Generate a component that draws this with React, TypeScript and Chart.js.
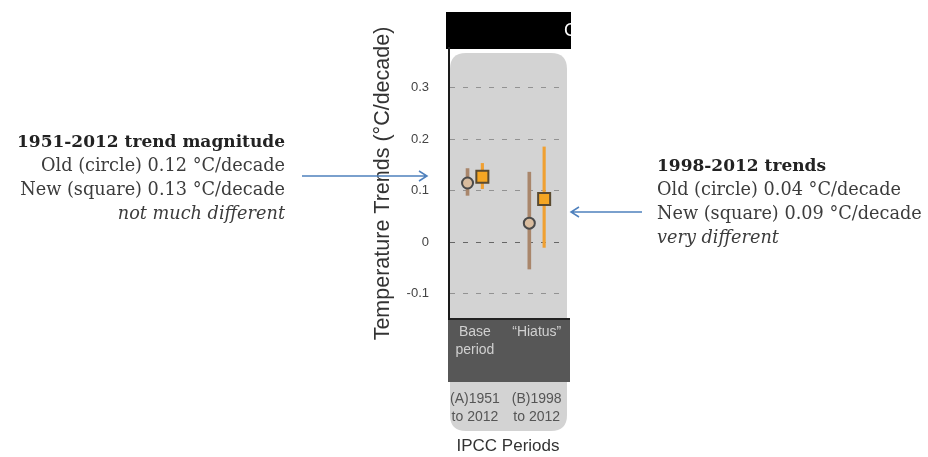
import React, { useEffect, useRef } from 'react';
import { Chart, registerables } from 'chart.js';

Chart.register(...registerables);

// ---- data ----
const categoryPositions = [0, 1];
const bandLabels = [['Base', 'period'], ['“Hiatus”']];
const periodLabels = [['(A)1951', 'to 2012'], ['(B)1998', 'to 2012']];
const oldTrend = [0.115, 0.037];
const oldLow = [0.091, -0.052];
const oldHigh = [0.143, 0.136];
const newTrend = [0.127, 0.084];
const newLow = [0.104, -0.01];
const newHigh = [0.153, 0.185];
const yTickValues = [-0.1, 0, 0.1, 0.2, 0.3];
const yTickLabels = ['-0.1', '0', '0.1', '0.2', '0.3'];
const groupOffset = 0.12;

const leftNote = {
  title: '1951-2012 trend magnitude',
  lines: ['Old (circle) 0.12 °C/decade', 'New (square) 0.13 °C/decade'],
  remark: 'not much different',
};
const rightNote = {
  title: '1998-2012 trends',
  lines: ['Old (circle) 0.04 °C/decade', 'New (square) 0.09 °C/decade'],
  remark: 'very different',
};

const SANS = '"Liberation Sans", Arial, sans-serif';
const SERIF = '"DejaVu Serif", serif';

const decorPlugin = {
  id: 'decor',
  beforeDraw(chart: any) {
    const ctx = chart.ctx;
    const a = chart.chartArea;
    ctx.save();
    // rounded light panel
    const px = a.left + 1, py = a.top + 5, pw = a.right - a.left - 1, ph = 431 - py, r = 16;
    ctx.fillStyle = '#d3d3d3';
    ctx.beginPath();
    ctx.moveTo(px + r, py);
    ctx.lineTo(px + pw - r, py);
    ctx.quadraticCurveTo(px + pw, py, px + pw, py + r);
    ctx.lineTo(px + pw, py + ph - r);
    ctx.quadraticCurveTo(px + pw, py + ph, px + pw - r, py + ph);
    ctx.lineTo(px + r, py + ph);
    ctx.quadraticCurveTo(px, py + ph, px, py + ph - r);
    ctx.lineTo(px, py + r);
    ctx.quadraticCurveTo(px, py, px + r, py);
    ctx.closePath();
    ctx.fill();
    // black header
    ctx.fillStyle = '#000';
    ctx.fillRect(a.left - 3, 12, a.right - a.left + 7, a.top - 11);
    ctx.save();
    ctx.beginPath();
    ctx.rect(a.left - 3, 12, a.right - a.left + 7, a.top - 11);
    ctx.clip();
    ctx.fillStyle = '#fff';
    ctx.font = '18px ' + SANS;
    ctx.textBaseline = 'middle';
    ctx.fillText('C', 564, 31);
    ctx.restore();
    // dark band
    ctx.fillStyle = '#575757';
    ctx.fillRect(a.left - 1, a.bottom, a.right - a.left + 4, 63);
    ctx.fillStyle = '#222';
    ctx.fillRect(a.left - 1, a.bottom - 1, a.right - a.left + 4, 2);
    ctx.restore();
  },
  afterDraw(chart: any) {
    const ctx = chart.ctx;
    const arrow = (x1: number, x2: number, y: number) => {
      const dir = x2 > x1 ? 1 : -1;
      ctx.beginPath();
      ctx.moveTo(x1, y);
      ctx.lineTo(x2, y);
      ctx.moveTo(x2 - dir * 8, y - 5);
      ctx.lineTo(x2, y);
      ctx.lineTo(x2 - dir * 8, y + 5);
      ctx.stroke();
    };
    ctx.save();
    ctx.strokeStyle = '#4f81bd';
    ctx.lineWidth = 1.5;
    arrow(302, 427, 176);
    arrow(642, 571, 212);
    ctx.restore();
  },
};

export default function App() {
  const ref = useRef<HTMLCanvasElement | null>(null);

  useEffect(() => {
    if (!ref.current) return;
    const xMin = -0.42;
    const xMax = 1.49;
    const chart = new Chart(ref.current, {
      type: 'scatter',
      data: {
        datasets: [
          {
            type: 'scatter',
            label: 'Old',
            data: categoryPositions.map((x, i) => ({ x: x - groupOffset, y: oldTrend[i] })),
            pointStyle: 'circle',
            pointRadius: 5.5,
            backgroundColor: '#d9bc9e',
            borderColor: '#4a4a4a',
            borderWidth: 2,
            order: 0,
          } as any,
          {
            type: 'scatter',
            label: 'New',
            data: categoryPositions.map((x, i) => ({ x: x + groupOffset, y: newTrend[i] })),
            pointStyle: 'rect',
            pointRadius: 8.5,
            backgroundColor: '#f5a623',
            borderColor: '#5a4a30',
            borderWidth: 2,
            order: 0,
          } as any,
          {
            type: 'bar',
            label: 'Old range',
            data: categoryPositions.map((x, i) => ({ x: x - groupOffset, y: [oldLow[i], oldHigh[i]] })),
            backgroundColor: '#a9866b',
            barThickness: 3,
            grouped: false,
            order: 2,
          } as any,
          {
            type: 'bar',
            label: 'New range',
            data: categoryPositions.map((x, i) => ({ x: x + groupOffset, y: [newLow[i], newHigh[i]] })),
            backgroundColor: '#f0a032',
            barThickness: 2.5,
            grouped: false,
            order: 2,
          } as any,
        ],
      },
      options: {
        responsive: false,
        animation: false,
        layout: { padding: { left: 370, right: 361, top: 48, bottom: 0 } },
        plugins: { legend: { display: false }, tooltip: { enabled: false } },
        scales: {
          x: {
            type: 'linear',
            min: xMin,
            max: xMax,
            offset: false,
            grid: { offset: false },
            display: false,
          },
          xBand: {
            type: 'linear',
            position: 'bottom',
            min: xMin,
            max: xMax,
            offset: false,
            weight: 0,
            grid: { display: false, drawTicks: false },
            border: { display: false },
            afterBuildTicks: (s: any) => {
              s.ticks = categoryPositions.map((v) => ({ value: v }));
            },
            afterFit: (s: any) => {
              s.height = 63;
            },
            ticks: {
              autoSkip: false,
              maxRotation: 0,
              padding: 4,
              color: '#d0d0d0',
              font: { family: SANS, size: 14, lineHeight: '18px' },
              callback: (_v: any, i: number) => bandLabels[i],
            },
          },
          xPeriod: {
            type: 'linear',
            position: 'bottom',
            min: xMin,
            max: xMax,
            offset: false,
            weight: 1,
            grid: { display: false, drawTicks: false },
            border: { display: false },
            afterBuildTicks: (s: any) => {
              s.ticks = categoryPositions.map((v) => ({ value: v }));
            },
            afterFit: (s: any) => {
              s.height = 75;
            },
            ticks: {
              autoSkip: false,
              maxRotation: 0,
              padding: 8,
              color: '#555',
              font: { family: SANS, size: 14, lineHeight: '18px' },
              callback: (_v: any, i: number) => periodLabels[i],
            },
            title: {
              display: true,
              text: 'IPCC Periods',
              color: '#333',
              font: { family: SANS, size: 17 },
              padding: { top: 0, bottom: 0 },
            },
          },
          y: {
            type: 'linear',
            min: -0.149,
            max: 0.377,
            afterBuildTicks: (s: any) => {
              s.ticks = yTickValues.map((v) => ({ value: v }));
            },
            afterFit: (s: any) => {
              s.width = 79;
            },
            ticks: {
              padding: 20,
              color: '#444',
              font: { family: SANS, size: 13 },
              callback: (_v: any, i: number) => yTickLabels[i],
            },
            grid: {
              drawTicks: false,
              lineWidth: 1,
              color: (c: any) => (c.tick && c.tick.value === 0 ? '#666' : '#929292'),
            },
            border: { display: true, color: '#1a1a1a', width: 2, dash: [5, 8] },
            title: {
              display: true,
              text: 'Temperature Trends (°C/decade)',
              color: '#333',
              font: { family: SANS, size: 21.5 },
              padding: { top: 0, bottom: 0 },
            },
          },
        },
      } as any,
      plugins: [decorPlugin],
    });
    return () => chart.destroy();
  }, []);

  const noteLine = (t: string, style: any = {}) => (
    <div style={{ height: 24, lineHeight: '24px', whiteSpace: 'nowrap', ...style }}>{t}</div>
  );

  return (
    <div style={{ position: 'fixed', left: 0, top: 0, width: 928, height: 457, background: '#fff' }}>
      <canvas ref={ref} width={928} height={457} style={{ display: 'block' }} />
      <div
        style={{
          position: 'absolute',
          left: 0,
          width: 285,
          top: 129,
          textAlign: 'right',
          fontFamily: SERIF,
          fontSize: 17.7,
          color: '#3c3c3c',
        }}
      >
        {noteLine(leftNote.title, { fontWeight: 'bold', color: '#222', fontSize: 17 })}
        {leftNote.lines.map((l) => noteLine(l))}
        {noteLine(leftNote.remark, { fontStyle: 'italic' })}
      </div>
      <div
        style={{
          position: 'absolute',
          left: 657,
          top: 153,
          textAlign: 'left',
          fontFamily: SERIF,
          fontSize: 17.7,
          color: '#3c3c3c',
        }}
      >
        {noteLine(rightNote.title, { fontWeight: 'bold', color: '#222', fontSize: 17 })}
        {rightNote.lines.map((l) => noteLine(l))}
        {noteLine(rightNote.remark, { fontStyle: 'italic' })}
      </div>
    </div>
  );
}
